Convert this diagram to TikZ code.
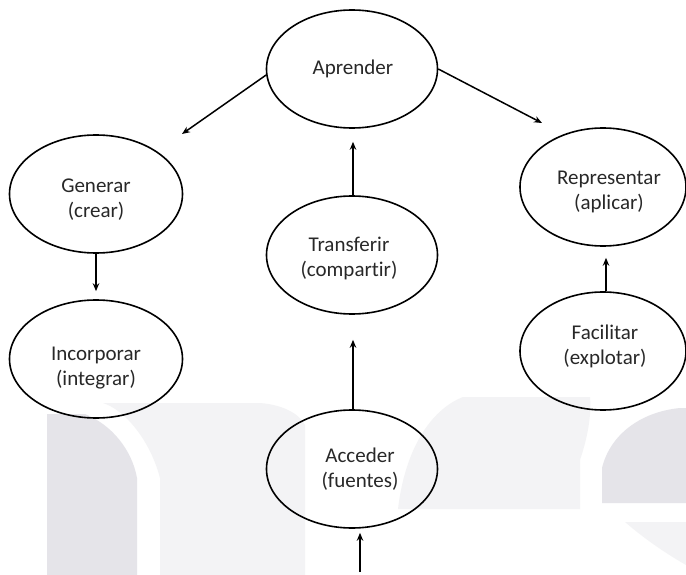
\documentclass[tikz,border=0pt]{standalone}
\usepackage{fontspec}
\setmainfont{Carlito}[Ligatures={NoCommon}]
\usetikzlibrary{shapes.geometric,arrows.meta}
\definecolor{inkgray}{RGB}{40,40,40}
\definecolor{markdark}{RGB}{229,228,233}
\definecolor{marklight}{RGB}{243,243,245}
\begin{document}
\begin{tikzpicture}[x=1pt,y=-1pt,
  concept/.style={ellipse,draw=black,line width=1.6pt,minimum width=171pt,
    minimum height=118pt,inner sep=0pt},
  caption/.style={align=center,text=inkgray,inner sep=0pt,
    font=\fontsize{21}{25}\selectfont},
  link/.style={line width=1.5pt,-{Stealth[length=8pt,width=6.5pt]}}]
\useasboundingbox (0,0) rectangle (686,575);
\fill[white] (0,0) rectangle (686,575);

% faint background marks
\fill[marklight] (103,403) -- (260,403) .. controls (285,405) and (300,415) .. (305,425)
  -- (305,575) -- (160,575) -- (160,478) .. controls (150,440) and (125,410) .. (103,403) -- cycle;
\fill[marklight] (398,509) .. controls (405,450) and (430,410) .. (463,397) -- (590,397)
  .. controls (592,420) and (585,445) .. (580,460) -- (580,509) -- cycle;
\fill[markdark] (47,414) -- (85,414) .. controls (112,425) and (132,450) .. (137,478)
  -- (137,575) -- (47,575) -- cycle;
\fill[markdark] (602,503) -- (602,468) .. controls (610,435) and (640,412) .. (680,408)
  -- (686,408) -- (686,503) -- cycle;
\fill[marklight] (625,522) -- (686,522) -- (686,565) .. controls (660,550) and (640,535) .. (625,522) -- cycle;

% concepts
\node[concept] (apr) at (352,69) {};
\node[concept,minimum width=173pt] (gen) at (96,194) {};
\node[concept,minimum width=173pt] (inc) at (96,359) {};
\node[concept] (tra) at (352,255) {};
\node[concept,minimum width=166pt] (rep) at (603,187) {};
\node[concept,minimum width=166pt] (fac) at (603,351) {};
\node[concept] (acc) at (352,469) {};

% labels
\node[caption] (aprText) at (353,69) {Aprender};
\node[caption] (genText) at (96,200) {Generar\\(crear)};
\node[caption] (incText) at (96,368) {Incorporar\\(integrar)};
\node[caption] (traText) at (349,258) {Transferir\\(compartir)};
\node[caption] (repText) at (609,192) {Representar\\(aplicar)};
\node[caption] (facText) at (605,346) {Facilitar\\(explotar)};
\node[caption] (accText) at (360,469) {Acceder\\(fuentes)};

% connectors
\coordinate (genTip) at (182,134);
\coordinate (repTip) at (542,123);
\coordinate (inTail) at (360,572);
\draw[link] (apr.184) -- (genTip);
\draw[link] (apr.east) -- (repTip);
\draw[link,shorten >=13pt] ([xshift=1pt]tra.north) -- ([xshift=1pt]apr.south);
\draw[link,shorten >=8pt] (gen.south) -- (inc.north);
\draw[link,shorten >=25pt] ([xshift=1pt]acc.north) -- ([xshift=1pt]tra.south);
\draw[link,shorten >=11pt] ([xshift=3pt]fac.north) -- ([xshift=3pt]rep.south);
\draw[link,shorten >=4pt] (inTail) -- (inTail |- acc.south);
\end{tikzpicture}
\end{document}
